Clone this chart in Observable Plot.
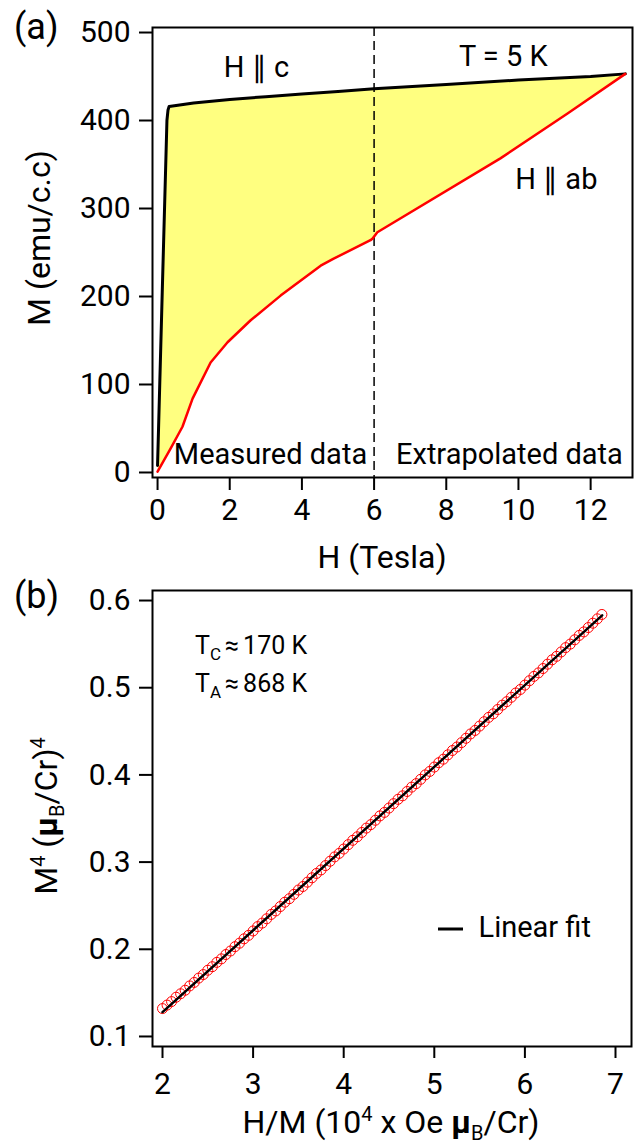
<!DOCTYPE html>
<html><head><meta charset="utf-8">
<script src="https://cdn.jsdelivr.net/npm/d3@7"></script>
<script src="https://cdn.jsdelivr.net/npm/@observablehq/plot@0.6"></script>
<style>
body{margin:0;background:#fff;}
#chart{width:643px;}
#chart svg{display:block;}
</style></head><body><div id="chart"></div>
<script>
// ---- Panel (a): M vs H at T = 5 K ----
const fieldC = [0, 0.13, 0.26, 0.29, 0.32, 1, 2, 3, 4, 5, 6, 8, 10, 12, 12.96];
const magC   = [8, 205, 400, 412, 416, 420, 424, 427, 430, 433, 436, 441, 446, 450, 453];
const fieldAB = [0, 0.36, 0.69, 0.97, 1.47, 1.94, 2.58, 3.41, 3.96, 4.52, 4.88, 5.9, 5.96, 6.09, 9.5, 11.36, 12.96];
const magAB   = [1, 27, 52, 84, 125, 148, 173, 201, 218, 235, 243, 264, 266, 273, 357, 408, 453];
const boundaryField = [6];
const ticksAx = [0, 2, 4, 6, 8, 10, 12];
const ticksAy = [0, 100, 200, 300, 400, 500];

// ---- Panel (b): Arrott-type plot ----
const hOverM = [2.00,2.05,2.10,2.15,2.20,2.25,2.30,2.35,2.40,2.45,2.50,2.55,2.60,2.65,2.70,2.75,2.80,2.85,2.90,2.95,
3.00,3.05,3.10,3.15,3.20,3.25,3.30,3.35,3.40,3.45,3.50,3.55,3.60,3.65,3.70,3.75,3.80,3.85,3.90,3.95,
4.00,4.05,4.10,4.15,4.20,4.25,4.30,4.35,4.40,4.45,4.50,4.55,4.60,4.65,4.70,4.75,4.80,4.85,4.90,4.95,
5.00,5.05,5.10,5.15,5.20,5.25,5.30,5.35,5.40,5.45,5.50,5.55,5.60,5.65,5.70,5.75,5.80,5.85,5.90,5.95,
6.00,6.05,6.10,6.15,6.20,6.25,6.30,6.35,6.40,6.45,6.50,6.55,6.60,6.65,6.70,6.75,6.80,6.85];
const m4 = [0.132,0.136,0.140,0.145,0.149,0.153,0.158,0.162,0.167,0.171,0.176,0.180,0.185,0.189,0.194,0.198,0.203,0.207,0.212,0.216,
0.221,0.226,0.230,0.235,0.240,0.244,0.249,0.254,0.258,0.263,0.268,0.272,0.277,0.282,0.287,0.291,0.296,0.301,0.306,0.310,
0.315,0.320,0.325,0.329,0.334,0.339,0.343,0.348,0.353,0.357,0.362,0.367,0.372,0.376,0.381,0.386,0.390,0.395,0.400,0.404,
0.409,0.414,0.418,0.423,0.428,0.432,0.437,0.442,0.447,0.451,0.456,0.461,0.466,0.470,0.475,0.480,0.484,0.489,0.494,0.498,
0.503,0.508,0.513,0.517,0.522,0.527,0.532,0.536,0.541,0.546,0.550,0.555,0.560,0.564,0.569,0.574,0.579,0.584];
const fitX = [2.0, 6.853];
const fitY = [0.128, 0.583];
const ticksBx = [2, 3, 4, 5, 6, 7];
const ticksBy = [0.1, 0.2, 0.3, 0.4, 0.5, 0.6];

const FONT = "Roboto, 'Open Sans', sans-serif";
const fmt = d => String(d);

const dataC = fieldC.map((h, i) => ({h, m: magC[i]}));
const dataAB = fieldAB.map((h, i) => ({h, m: magAB[i]}));
const fillPoly = dataC.concat(dataAB.slice().reverse());
const dataB = hOverM.map((x, i) => ({x, y: m4[i]}));
const fitData = fitX.map((x, i) => ({x, y: fitY[i]}));

const chartA = Plot.plot({
  width: 643, height: 575,
  marginLeft: 152, marginRight: 11, marginTop: 27, marginBottom: 98,
  x: {domain: [-0.14, 13.16]},
  y: {domain: [-5.7, 505.7]},
  style: {fontFamily: FONT, fontSize: "30px", color: "black", background: "white", overflow: "visible"},
  marks: [
    Plot.line(fillPoly, {x: "h", y: "m", fill: "#ffff80", stroke: "none"}),
    Plot.ruleX(boundaryField, {stroke: "black", strokeWidth: 1.5, strokeDasharray: "9,5"}),
    Plot.line(dataC, {x: "h", y: "m", stroke: "black", strokeWidth: 3}),
    Plot.line(dataAB, {x: "h", y: "m", stroke: "red", strokeWidth: 2.5}),
    Plot.frame({stroke: "black", strokeWidth: 2}),
    Plot.axisX({ticks: ticksAx, tickFormat: fmt, tickSize: 13, tickPadding: 8, label: null, strokeWidth: 2, fontSize: 30}),
    Plot.axisY({ticks: ticksAy, tickFormat: fmt, tickSize: 13, tickPadding: 9, label: null, strokeWidth: 2, fontSize: 30}),
    Plot.text(["H \u2225 c"], {x: 2.74, y: 460, fontSize: 29, textAnchor: "middle"}),
    Plot.text(["T = 5 K"], {x: 9.58, y: 472, fontSize: 29, textAnchor: "middle"}),
    Plot.text(["H \u2225 ab"], {x: 11.05, y: 333, fontSize: 29, textAnchor: "middle"}),
    Plot.text(["Measured data"], {x: 3.13, y: 20.5, fontSize: 29, textAnchor: "middle"}),
    Plot.text(["Extrapolated data"], {x: 9.75, y: 20.5, fontSize: 29, textAnchor: "middle"})
  ]
});

const chartB = Plot.plot({
  width: 643, height: 571,
  marginLeft: 152, marginRight: 12, marginTop: 15, marginBottom: 100,
  x: {domain: [1.8896, 7.1766]},
  y: {domain: [0.0885, 0.6115]},
  style: {fontFamily: FONT, fontSize: "30px", color: "black", background: "white", overflow: "visible"},
  marks: [
    Plot.dot(dataB, {x: "x", y: "y", r: 5, stroke: "red", fill: "none", strokeWidth: 1}),
    Plot.line(fitData, {x: "x", y: "y", stroke: "black", strokeWidth: 2.5}),
    Plot.frame({stroke: "black", strokeWidth: 2}),
    Plot.axisX({ticks: ticksBx, tickFormat: fmt, tickSize: 12, tickPadding: 14, label: null, strokeWidth: 2, fontSize: 30}),
    Plot.axisY({ticks: ticksBy, tickFormat: fmt, tickSize: 13, tickPadding: 9, label: null, strokeWidth: 2, fontSize: 30}),
    Plot.text(["Linear fit"], {x: 5.488, y: 0.2244, fontSize: 29, textAnchor: "start"})
  ]
});

const root = document.getElementById("chart");
root.appendChild(chartA);
root.appendChild(chartB);

// ---- rich text (labels with sub/superscripts) ----
function addText(svg, x, y, size, parts, opts = {}) {
  const t = d3.select(svg).append("text")
    .attr("font-family", FONT).attr("font-size", size).attr("fill", "black")
    .attr("text-anchor", opts.anchor || "start");
  if (opts.rotate) t.attr("transform", `translate(${x},${y}) rotate(-90)`);
  else t.attr("x", x).attr("y", y);
  for (const p of parts) {
    const s = t.append("tspan").text(p.t);
    if (p.size) s.attr("font-size", p.size);
    if (p.dy) s.attr("dy", p.dy);
    if (p.dx) s.attr("dx", p.dx);
    if (p.bold) s.attr("font-weight", "bold");
  }
  return t;
}

// panel (a)
addText(chartA, 14, 39, 36, [{t: "(a)"}]);
addText(chartA, 50, 238, 32, [{t: "M (emu/c.c)"}], {anchor: "middle", rotate: true});
addText(chartA, 382, 568, 32, [{t: "H (Tesla)"}], {anchor: "middle"});

// panel (b)
addText(chartB, 14, 33, 36, [{t: "(b)"}]);
addText(chartB, 195, 79, 25, [
  {t: "T"}, {t: "C", size: 17, dy: 6}, {t: "\u2248", dy: -6, dx: 4}, {t: "170 K", dx: 4}
]);
addText(chartB, 195, 117, 25, [
  {t: "T"}, {t: "A", size: 17, dy: 6}, {t: "\u2248", dy: -6, dx: 4}, {t: "868 K", dx: 4}
]);
addText(chartB, 57, 241, 32, [
  {t: "M"}, {t: "4", size: 20, dy: -12}, {t: " (", dy: 12}, {t: "\u03bc", bold: true},
  {t: "B", size: 20, dy: 7}, {t: "/Cr)", dy: -7}, {t: "4", size: 20, dy: -12}
], {anchor: "middle", rotate: true});
addText(chartB, 391, 558, 32, [
  {t: "H/M (10"}, {t: "4", size: 20, dy: -12}, {t: " x Oe ", dy: 12}, {t: "\u03bc", bold: true},
  {t: "B", size: 20, dy: 7}, {t: "/Cr)", dy: -7}
], {anchor: "middle"});
// legend swatch
d3.select(chartB).append("line")
  .attr("x1", 438).attr("x2", 463).attr("y1", 354).attr("y2", 354)
  .attr("stroke", "black").attr("stroke-width", 3);
</script></body></html>
